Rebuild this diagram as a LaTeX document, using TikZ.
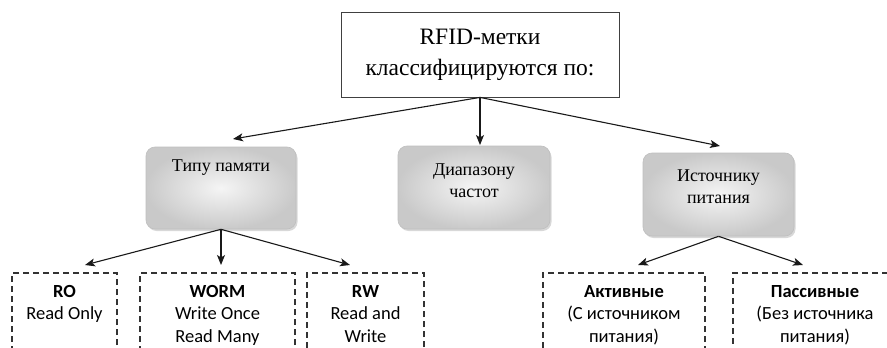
\documentclass[tikz,border=0pt]{standalone}
\usepackage{fontspec}
\setmainfont{Liberation Serif}
\newfontfamily\calib{Carlito}
\usetikzlibrary{shadows,arrows.meta}
\begin{document}
\begin{tikzpicture}[x=1pt,y=-1pt,
  topbox/.style={draw=black!75, line width=0.8pt, fill=white, align=center, inner sep=0pt,
    font=\fontsize{23.5}{31}\selectfont},
  graybox/.style={rounded corners=9pt, draw=gray!50, line width=0.6pt,
    inner color=gray!8, outer color=gray!42,
    drop shadow={opacity=0.3, shadow xshift=1.5pt, shadow yshift=-2pt}},
  graytext/.style={align=center, inner sep=0pt, font=\fontsize{18}{22}\selectfont},
  dashbox/.style={draw=black!80, line width=1.1pt, dash pattern=on 6pt off 4pt,
    minimum height=87pt, inner sep=0pt},
  dashtext/.style={align=center, anchor=north, inner sep=0pt,
    font=\calib\fontsize{18.5}{22.5}\selectfont},
  arr/.style={-{Stealth[length=10pt,width=8pt,inset=2.5pt]}, line width=1.1pt, black!90}
]
\useasboundingbox (0,0) rectangle (887,348);
\clip (0,0) rectangle (887,348);
\fill[white] (0,0) rectangle (887,348);

% top box
\node[topbox, minimum width=278pt, minimum height=85pt] (top) at (480,54.5)
  {RFID-метки\\классифицируются по:};

% gray boxes
\node[graybox, minimum width=150pt, minimum height=82pt] (mem) at (221,188) {};
\node[graytext] (memt) at (221,168) {Типу памяти};
\node[graybox, minimum width=152pt, minimum height=83pt] (freq) at (474,187.5) {};
\node[graytext] (freqt) at (474,181) {Диапазону\\частот};
\node[graybox, minimum width=151pt, minimum height=83pt] (pow) at (718.5,194.5) {};
\node[graytext] (powt) at (718.5,186.5) {Источнику\\питания};

% dashed boxes
\node[dashbox, minimum width=105pt] (ro) at (64.5,316.5) {};
\node[dashtext] (rot) at (64.5,285) {\textbf{RO}\\Read Only};
\node[dashbox, minimum width=155pt] (worm) at (217.5,316.5) {};
\node[dashtext] (wormt) at (217.5,285) {\textbf{WORM}\\Write Once\\Read Many};
\node[dashbox, minimum width=117pt] (rw) at (365.5,316.5) {};
\node[dashtext] (rwt) at (365.5,285) {\textbf{RW}\\Read and\\Write};
\node[dashbox, minimum width=162pt] (act) at (624,316.5) {};
\node[dashtext] (actt) at (624,285) {\textbf{Активные}\\(С источником\\питания)};
\node[dashbox, minimum width=164pt] (pas) at (815,316.5) {};
\node[dashtext] (past) at (815,285) {\textbf{Пассивные}\\(Без источника\\питания)};

% arrow tips
\coordinate (tmem) at (233,139);
\coordinate (tfreq) at (480,145);
\coordinate (tpow) at (720,146);
\coordinate (tro) at (85,265);
\coordinate (tworm) at (221,265);
\coordinate (trw) at (350,265);
\coordinate (tact) at (638,265);
\coordinate (tpas) at (803,265);

\draw[arr] (top.south) -- (tmem);
\draw[arr] (top.south) -- (tfreq);
\draw[arr] (top.south) -- (tpow);
\draw[arr] (mem.south) -- (tro);
\draw[arr] (mem.south) -- (tworm);
\draw[arr] (mem.south) -- (trw);
\draw[arr] (pow.south) -- (tact);
\draw[arr] (pow.south) -- (tpas);
\end{tikzpicture}
\end{document}
